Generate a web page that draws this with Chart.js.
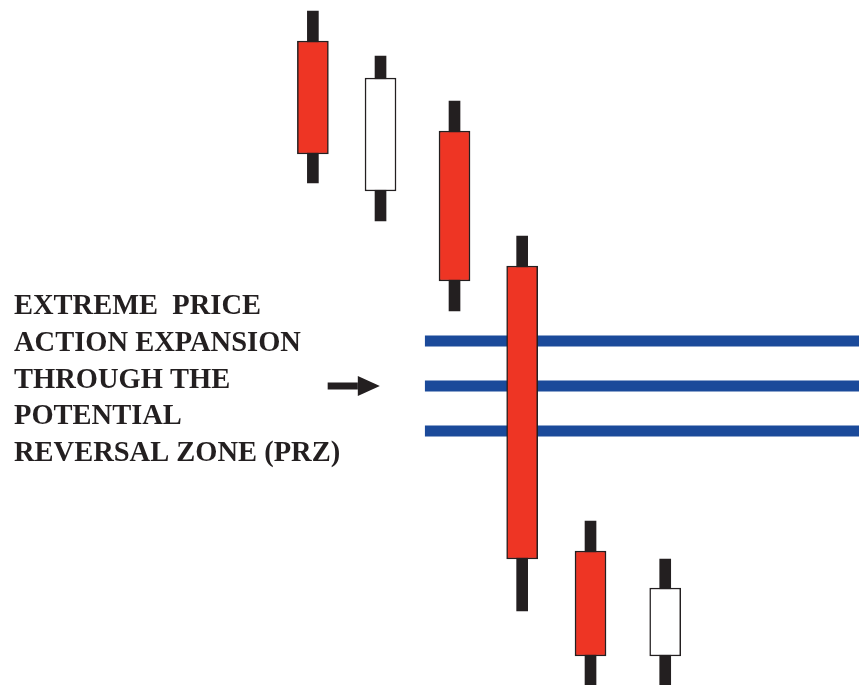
<!DOCTYPE html>
<html lang="en">
<head>
  <meta charset="UTF-8">
  <title>PRZ expansion</title>
  <script src="https://cdn.jsdelivr.net/npm/chart.js"></script>
  <style>
    html, body { margin: 0; padding: 0; background: #fff; }
    #wrap { width: 859px; height: 685px; position: relative; }
  </style>
</head>
<body>
  <div id="wrap"><canvas id="chart"></canvas></div>
  <script>
    // candle positions along the time axis
    const candleX = [1, 1.96, 3.01, 3.97, 4.94, 6];
    // prices
    const highs  = [67.4, 62.9, 58.4, 44.9, 16.4, 12.6];
    const opens  = [64.4, 49.4, 55.4, 41.9, 13.4, 2.9];
    const closes = [53.1, 60.7, 40.4, 12.6, 2.9, 9.7];
    const lows   = [50.2, 46.4, 37.4, 7.4, -1, -1];
    const bodyColors = ['#ee3524', '#ffffff', '#ee3524', '#ee3524', '#ee3524', '#ffffff'];

    // potential reversal zone levels
    const przLevels = [34.4, 29.9, 25.4];
    const przStart = 2.59;
    const xMin = -3.44, xMax = 8.75;

    // arrow pointing at the middle level
    const arrowFrom = 1.21, arrowTo = 1.95, arrowLevel = 29.9;

    const labelLines = [
      'EXTREME  PRICE',
      'ACTION EXPANSION',
      'THROUGH THE',
      'POTENTIAL',
      'REVERSAL ZONE (PRZ)'
    ];

    const ink = '#231f20';

    const wickData = candleX.map((x, i) => ({ x: x, y: [lows[i], highs[i]] }));
    const bodyData = candleX.map((x, i) => ({ x: x, y: [opens[i], closes[i]] }));

    const przSets = przLevels.map(level => ({
      type: 'line',
      data: [{ x: przStart, y: level }, { x: xMax, y: level }],
      borderColor: '#1b4a9a',
      borderWidth: 11,
      borderCapStyle: 'butt',
      pointRadius: 0,
      order: 2
    }));

    const annotations = {
      id: 'annotations',
      afterDatasetsDraw(chart) {
        const ctx = chart.ctx;
        const xs = chart.scales.x, ys = chart.scales.y;

        // arrow
        const x0 = xs.getPixelForValue(arrowFrom);
        const x1 = xs.getPixelForValue(arrowTo);
        const y = ys.getPixelForValue(arrowLevel);
        ctx.save();
        ctx.fillStyle = ink;
        ctx.fillRect(x0, y - 3.5, x1 - x0 - 22, 7);
        ctx.beginPath();
        ctx.moveTo(x1 - 22, y - 10);
        ctx.lineTo(x1, y);
        ctx.lineTo(x1 - 22, y + 10);
        ctx.closePath();
        ctx.fill();

        // label
        ctx.font = 'bold 28.5px "Liberation Serif"';
        ctx.textBaseline = 'alphabetic';
        ctx.textAlign = 'left';
        labelLines.forEach((line, i) => {
          ctx.fillText(line, 14, 314 + i * 36.75);
        });
        ctx.restore();
      }
    };

    new Chart(document.getElementById('chart'), {
      type: 'bar',
      data: {
        datasets: [
          {
            data: wickData,
            backgroundColor: ink,
            barThickness: 11,
            grouped: false,
            order: 3
          },
          ...przSets,
          {
            data: bodyData,
            backgroundColor: bodyColors,
            borderColor: ink,
            borderWidth: 1.5,
            borderSkipped: false,
            barThickness: 31,
            grouped: false,
            order: 1
          }
        ]
      },
      options: {
        responsive: true,
        maintainAspectRatio: false,
        animation: false,
        layout: { padding: 0 },
        plugins: {
          legend: { display: false },
          tooltip: { enabled: false }
        },
        scales: {
          x: { type: 'linear', min: xMin, max: xMax, offset: false, display: false },
          y: { min: 0, max: 68.5, display: false }
        }
      },
      plugins: [annotations]
    });
  </script>
</body>
</html>
